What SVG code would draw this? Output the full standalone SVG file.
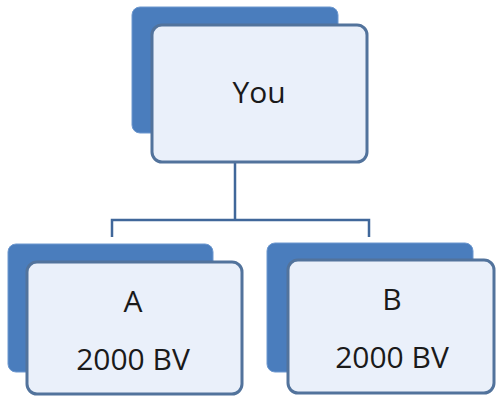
<svg xmlns="http://www.w3.org/2000/svg" width="496" height="397" viewBox="0 0 496 397">
<style>
.back{fill:#4a7dbd;stroke:#6d98cf;stroke-width:1}
.front{fill:#eaf0fa;stroke:#52739c;stroke-width:3}
.lbl{font-family:"Open Sans","Liberation Sans",sans-serif;font-size:30px;fill:#1a1a1a;text-anchor:middle}
.conn{fill:none;stroke:#40679a;stroke-width:2.5}
</style>
<rect width="496" height="397" fill="#ffffff"/>
<g id="connectors">
<path class="conn" d="M235,162 V220 M112,237 V220 H369 V237"/>
</g>
<g id="node-you">
<rect class="back" x="132" y="7" width="206" height="126" rx="8"/>
<rect class="front" x="152" y="25" width="215" height="137" rx="10"/>
<text class="lbl" x="259" y="103">You</text>
</g>
<g id="node-a">
<rect class="back" x="8" y="244" width="205" height="128" rx="8"/>
<rect class="front" x="27" y="262" width="215" height="132" rx="10"/>
<text class="lbl" x="133" y="312">A</text>
<text class="lbl" x="133" y="370">2000 BV</text>
</g>
<g id="node-b">
<rect class="back" x="267" y="243" width="206" height="129" rx="8"/>
<rect class="front" x="288" y="260" width="206" height="133" rx="10"/>
<text class="lbl" x="392" y="310">B</text>
<text class="lbl" x="392" y="368">2000 BV</text>
</g>
</svg>
